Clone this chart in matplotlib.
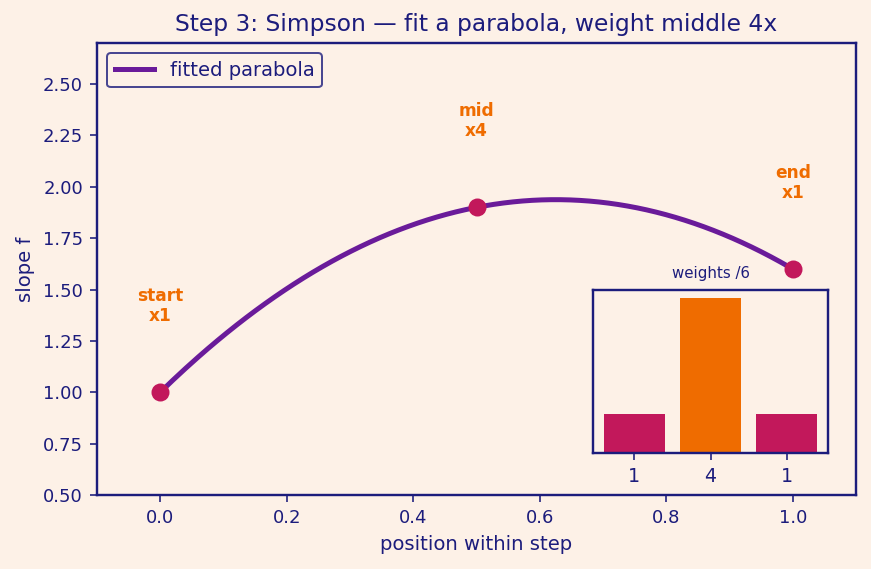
import matplotlib
matplotlib.use("Agg")
import matplotlib.pyplot as plt
import numpy as np

# sample points within one step
xs = [0.0, 0.5, 1.0]
fs = [1.0, 1.9, 1.6]
labels = ["start\nx1", "mid\nx4", "end\nx1"]

# simpson weights
w_labels = ["1", "4", "1"]
weights = [1, 4, 1]

bg = "#fdf1e7"
navy = "#1c1c7c"
purple = "#6a1b9a"
crimson = "#c2185b"
orange = "#ef6c00"

plt.rcParams["text.color"] = navy
plt.rcParams["axes.labelcolor"] = navy
plt.rcParams["xtick.color"] = navy
plt.rcParams["ytick.color"] = navy
plt.rcParams["axes.edgecolor"] = navy

fig = plt.figure(figsize=(871/144, 569/144), dpi=144)
fig.patch.set_facecolor(bg)
ax = fig.add_axes([97/871, 1-495/569, (856-97)/871, (495-43)/569])
ax.set_facecolor(bg)

# fit parabola through the 3 points
c = np.polyfit(xs, fs, 2)
xx = np.linspace(0, 1, 200)
ax.plot(xx, np.polyval(c, xx), color=purple, lw=2.5, label="fitted parabola", zorder=2)
ax.plot(xs, fs, "o", color=crimson, ms=8, zorder=3)

for x, f, t in zip(xs, fs, labels):
    ax.text(x, f + 0.42, t, ha="center", va="center", color=orange,
            fontsize=8.5, fontweight="bold", linespacing=1.15)

ax.set_xlim(-0.1, 1.1)
ax.set_ylim(0.5, 2.7)
ax.set_xticks([0.0, 0.2, 0.4, 0.6, 0.8, 1.0])
ax.set_yticks(np.arange(0.5, 2.51, 0.25))
ax.tick_params(labelsize=9)
ax.set_xlabel("position within step", fontsize=9.8)
ax.set_ylabel("slope f", fontsize=9.8)
ax.set_title("Step 3: Simpson — fit a parabola, weight middle 4x", fontsize=11.7, color=navy)
for s in ax.spines.values():
    s.set_linewidth(1.2)
leg = ax.legend(loc="upper left", fontsize=9.8, facecolor=bg, edgecolor=navy, framealpha=0.8)
leg.get_frame().set_linewidth(1.0)

# inset with the weights
ins = fig.add_axes([593/871, 1-453/569, 235/871, 163/569])
ins.set_facecolor(bg)
w6 = [w / 6 for w in weights]
ins.bar(range(3), w6, width=0.8, color=[crimson, orange, crimson])
ins.set_ylim(0, 0.7)
ins.set_xticks(range(3))
ins.set_xticklabels(w_labels)
ins.set_yticks([])
ins.tick_params(labelsize=9.5)
ins.set_title("weights /6", fontsize=7.5, color=navy)
for s in ins.spines.values():
    s.set_linewidth(1.2)

fig.savefig("out.png", dpi=144, facecolor=bg)
